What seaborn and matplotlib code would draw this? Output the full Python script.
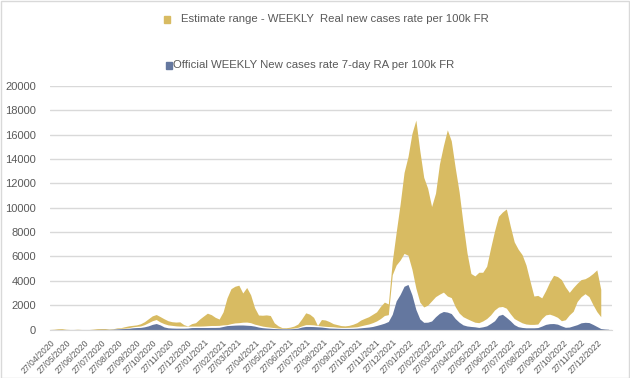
import numpy as np
import pandas as pd
import matplotlib
matplotlib.use("Agg")
import matplotlib.pyplot as plt
import matplotlib.dates as mdates
from matplotlib.patches import Rectangle
import seaborn as sns

sns.set_style("white")
plt.rcParams['font.family'] = ['Liberation Sans', 'DejaVu Sans']

# Weekly values, starting 27/04/2020
start_date = "2020-04-27"

official = [
    0, 0, 0, 0, 0, 0, 0, 0, 0, 0, 0, 0, 0, 10, 10, 10, 20, 50, 70, 80,
    100, 140, 160, 170, 220, 300, 420, 490, 380, 210, 140, 120, 110, 110, 110, 120, 160, 165, 165, 165,
    165, 170, 170, 180, 250, 320, 340, 360, 370, 370, 350, 330, 280, 200, 150, 120, 100, 80, 70, 60,
    60, 60, 80, 110, 200, 250, 250, 240, 220, 200, 160, 120, 110, 100, 90, 90, 90, 95, 110, 140,
    170, 200, 250, 330, 420, 520, 660, 1250, 2350, 2880, 3550, 3700, 2850, 1650, 870, 590, 600, 700, 1050, 1330,
    1480, 1430, 1310, 900, 600, 380, 290, 250, 220, 170, 220, 300, 500, 720, 1150, 1250, 1000, 720, 400, 230,
    170, 140, 140, 140, 160, 280, 420, 480, 490, 440, 300, 180, 200, 300, 400, 550, 590, 570, 420, 250,
    80, 40, 20,
]

estimate_low = [
    0, 0, 0, 0, 0, 0, 0, 0, 0, 0, 0, 0, 0, 10, 10, 10, 20, 70, 100, 110,
    150, 220, 260, 290, 400, 560, 720, 820, 620, 480, 380, 340, 300, 280, 280, 270, 280, 280, 280, 290,
    310, 330, 330, 340, 380, 400, 480, 540, 560, 600, 610, 560, 440, 360, 280, 230, 190, 150, 110, 90,
    80, 90, 120, 180, 300, 400, 400, 380, 330, 290, 260, 240, 225, 190, 170, 170, 180, 200, 225, 300,
    380, 450, 560, 700, 900, 1150, 1220, 4500, 5300, 5700, 6250, 6100, 4950, 3400, 2250, 1850, 2000, 2350, 2700, 2900,
    3070, 2750, 2620, 1880, 1350, 1050, 890, 740, 600, 560, 700, 900, 1200, 1600, 1850, 1890, 1750, 1300, 900, 720,
    550, 450, 420, 420, 450, 900, 1200, 1260, 1150, 1000, 720, 800, 1200, 1500, 2300, 2700, 2940, 2700, 2050, 1470,
    1050, np.nan, np.nan,
]

estimate_high = [
    0, 20, 60, 70, 20, 0, 0, 20, 0, 0, 0, 30, 70, 80, 80, 40, 60, 130, 150, 230,
    300, 340, 380, 470, 640, 880, 1120, 1230, 1060, 880, 720, 640, 610, 630, 400, 290, 480, 560, 850, 1100,
    1340, 1220, 1000, 860, 1450, 2600, 3350, 3550, 3640, 3000, 3450, 2850, 1800, 1190, 1170, 1200, 1150, 550, 300, 150,
    140, 190, 280, 450, 880, 1370, 1260, 1000, 330, 820, 780, 650, 480, 400, 320, 300, 340, 430, 560, 780,
    920, 1050, 1250, 1450, 1900, 2250, 2100, 5600, 8000, 10300, 12900, 14200, 16100, 17200, 14700, 12500, 11600, 10100, 11200, 13600,
    15100, 16400, 15500, 13300, 11300, 8700, 6300, 4600, 4400, 4700, 4700, 5200, 6700, 8100, 9300, 9650, 9900, 8500, 7200, 6600,
    6150, 5300, 4000, 2750, 2800, 2600, 3200, 3900, 4450, 4350, 4100, 3500, 3050, 3450, 3800, 4100, 4170, 4350, 4600, 4900,
    3300, np.nan, np.nan,
]

label_range = "Estimate range - WEEKLY  Real new cases rate per 100k FR"
label_official = "Official WEEKLY New cases rate 7-day RA per 100k FR"

gold = "#D8BB62"
blue = "#64779F"
grey_text = "#595959"

dates = pd.date_range(start_date, periods=len(official), freq="7D")
df = pd.DataFrame({"date": dates, "official": official,
                   "low": estimate_low, "high": estimate_high})

fig = plt.figure(figsize=(6.3, 3.78), dpi=100)
ax = fig.add_axes([50 / 630, 1 - 329.5 / 378, 562 / 630, 243.5 / 378])

valid = df["high"].notna()
ax.fill_between(df["date"][valid], df["low"][valid], df["high"][valid],
                color=gold, linewidth=0)
ax.fill_between(df["date"], 0, df["official"], color=blue, linewidth=0)

ax.set_ylim(0, 20000)
ax.set_yticks(range(0, 20001, 2000))
ax.set_xlim(pd.Timestamp("2020-04-27"), pd.Timestamp("2023-01-22"))
ticks = pd.date_range("2020-04-27", "2022-12-27", freq=pd.DateOffset(months=1))
ax.set_xticks(ticks)
ax.xaxis.set_major_formatter(mdates.DateFormatter("%d/%m/%Y"))
for lbl in ax.get_xticklabels():
    lbl.set_rotation(45)
    lbl.set_ha("right")
    lbl.set_rotation_mode("anchor")

ax.grid(axis="y", color="#D9D9D9", linewidth=1)
ax.set_axisbelow(True)
sns.despine(ax=ax, left=True, top=True, right=True)
ax.spines["bottom"].set_color("#D9D9D9")
ax.tick_params(axis="y", length=0, pad=10, labelsize=8, labelcolor=grey_text)
ax.tick_params(axis="x", length=4, color="#D9D9D9", pad=2, labelsize=6.2,
               labelcolor=grey_text)
ax.set_xlabel("")
ax.set_ylabel("")

# legend drawn by hand, stacked like the original
fig.patches.append(Rectangle((164 / 630, 1 - 23 / 378), 6 / 630, 7 / 378,
                             transform=fig.transFigure, color=gold))
fig.text(181 / 630, 1 - 19 / 378, label_range, fontsize=8.2, color=grey_text,
         va="center", ha="left")
fig.patches.append(Rectangle((166 / 630, 1 - 69 / 378), 6 / 630, 7 / 378,
                             transform=fig.transFigure, color=blue))
fig.text(173 / 630, 1 - 65 / 378, label_official, fontsize=8.2, color=grey_text,
         va="center", ha="left")

fig.patches.append(Rectangle((0.5 / 630, 0.5 / 378), 628.5 / 630, 376.5 / 378,
                             transform=fig.transFigure, fill=False,
                             edgecolor="#D9D9D9", linewidth=1))

fig.savefig("out.png", dpi=100)
